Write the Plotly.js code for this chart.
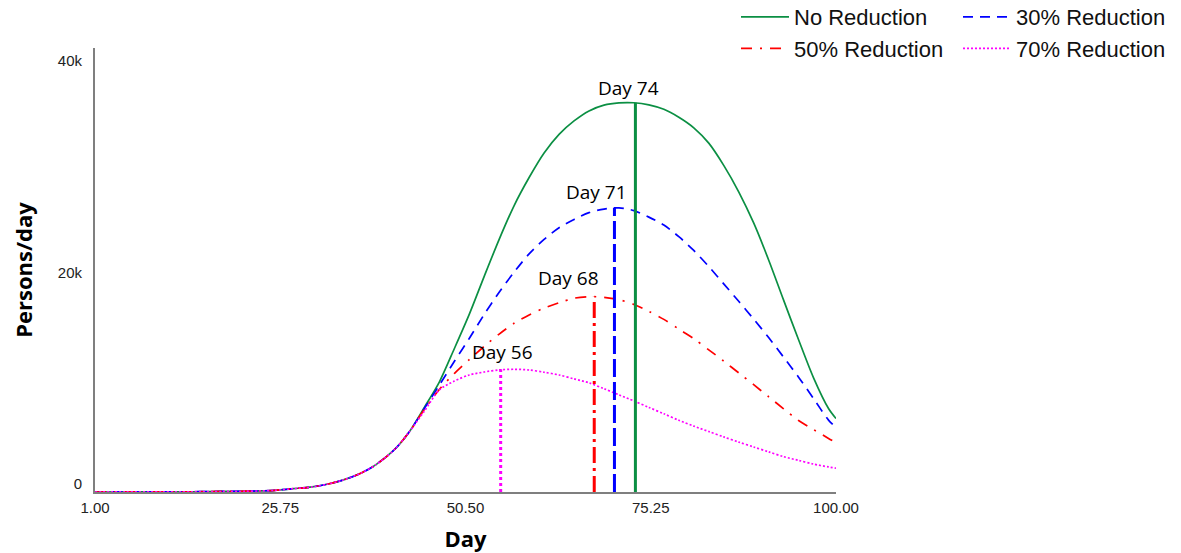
<!DOCTYPE html>
<html>
<head>
<meta charset="utf-8">
<script src="https://cdn.plot.ly/plotly-3.0.1.min.js"></script>
<style>html,body{margin:0;padding:0;background:#fff;}#chart{width:1181px;height:553px;}</style>
</head>
<body>
<div id="chart"></div>
<script>
// Day grid (shared by all series)
var days = [1,5,10,14,18,21,23,25,27.5,30,32,34,36.5,38.5,41,43,45,47,49,51,53,55,57,59,61,63,65,67,69,71,73,75,77,79,81,83,85,87,89,91,93,95,97,99,100];
// Early values common to all scenarios (days 1 .. 43)
var baseVals = [2,5,12,25,50,75,100,160,315,480,730,1100,1770,2570,4000,5700];
// Scenario values for days 45 .. 100
var noReduction = [8000,10400,13550,16800,20400,23900,27100,29750,32070,33830,35100,36050,36600,36810,36820,36620,36200,35450,34450,33000,30900,28400,25450,21950,18150,14400,10800,7900,6950];
var reduction30 = [7900,10100,12350,14520,16800,18900,20800,22530,23900,25000,25780,26430,26760,26880,26620,26000,25250,24150,22850,21330,19690,18040,16360,14610,12750,10860,8840,6800,6100];
var reduction50 = [7800,9700,11200,12520,13780,14940,15960,16750,17400,17900,18330,18480,18420,18190,17740,17090,16330,15410,14500,13450,12380,11270,10150,9010,7870,6760,5910,5070,4670];
var reduction70 = [7650,9650,10490,11070,11350,11550,11610,11540,11330,11070,10700,10330,9770,9190,8610,8000,7400,6780,6230,5720,5210,4720,4260,3800,3340,2990,2640,2370,2250];
var seriesNames = ["No Reduction","30% Reduction","50% Reduction","70% Reduction"];
// Peak markers
var peakDays = [73.2, 70.4, 67.7, 55.2];
var peakLabels = ["Day 74","Day 71","Day 68","Day 56"];
// Axis ticks
var xTickVals = [1, 25.75, 50.5, 75.25, 100];
var xTickText = ["1.00","25.75","50.50","75.25","100.00"];
var yTickVals = [0, 20000, 40000];
var yTickText = ["0","20k","40k"];

var colors = ["#0b8f43","#0000ff","#ff0000","#ff00ff"];
var curveDash = ["solid","10px,7px","11px,8px,2px,8px","2px,2px"];
var vlineDash = ["solid","18px,5px","16px,5px,3px,5px","3px,3px"];
var legendIds = ["legend","legend2","legend","legend2"];
var tails = [noReduction, reduction30, reduction50, reduction70];

var traces = [];
var annotations = [];
var xshifts = [-7,-18,-26,2];
var yshifts = [15,16,19,17];
for (var i = 0; i < 4; i++) {
  var y = baseVals.concat(tails[i]);
  traces.push({
    type: "scatter", mode: "lines", x: days, y: y, name: seriesNames[i],
    line: {color: colors[i], width: 1.7, dash: curveDash[i], shape: "spline", smoothing: 0.8},
    legend: legendIds[i], legendgroup: "g" + i, hoverinfo: "x+y"
  });
}
for (var j = 0; j < 4; j++) {
  var peak = Math.max.apply(null, tails[j]);
  traces.push({
    type: "scatter", mode: "lines", x: [peakDays[j], peakDays[j]], y: [0, peak],
    showlegend: false, line: {color: colors[j], width: 3, dash: vlineDash[j]}, hoverinfo: "skip"
  });
  annotations.push({
    x: peakDays[j], y: peak, xref: "x", yref: "y", text: peakLabels[j], showarrow: false,
    xanchor: "center", yanchor: "middle", xshift: xshifts[j], yshift: yshifts[j],
    font: {family: "Open Sans", size: 19, color: "#000"}
  });
}

var legendFont = {family: "Liberation Sans, Arial", size: 22, color: "#111"};
var layout = {
  width: 1181, height: 553,
  margin: {l: 95, r: 345, t: 48, b: 61, autoexpand: false},
  paper_bgcolor: "#fff", plot_bgcolor: "#fff",
  showlegend: true,
  xaxis: {
    range: [1, 100], tickvals: xTickVals, ticktext: xTickText, automargin: false,
    showgrid: false, zeroline: false, showline: true, linecolor: "#7f7f7f", linewidth: 2,
    ticks: "", ticklabelstandoff: 1,
    tickfont: {family: "Liberation Sans, Arial", size: 15, color: "#222"},
    title: {text: "Day", standoff: 20, font: {family: "Open Sans", size: 22, color: "#000", weight: "bold"}}
  },
  yaxis: {
    range: [0, 42000], tickvals: yTickVals, ticktext: yTickText, automargin: false,
    showgrid: false, zeroline: false, showline: true, linecolor: "#7f7f7f", linewidth: 2,
    ticks: "", ticklabelstandoff: 8, ticklabelshift: -8,
    tickfont: {family: "Liberation Sans, Arial", size: 15, color: "#222"},
    title: {text: "Persons/day", standoff: 19, font: {family: "Open Sans", size: 22, color: "#000", weight: "bold"}}
  },
  legend: {
    xref: "paper", yref: "paper", x: (736 - 95) / 741, y: 1 + 52 / 444, xanchor: "left", yanchor: "top",
    orientation: "v", itemwidth: 48, tracegroupgap: 0, bgcolor: "rgba(0,0,0,0)", font: legendFont
  },
  legend2: {
    xref: "paper", yref: "paper", x: (958 - 95) / 741, y: 1 + 52 / 444, xanchor: "left", yanchor: "top",
    orientation: "v", itemwidth: 48, tracegroupgap: 0, bgcolor: "rgba(0,0,0,0)", font: legendFont
  },
  annotations: annotations
};

Plotly.newPlot("chart", traces, layout, {displayModeBar: false, staticPlot: true});
</script>
</body>
</html>
